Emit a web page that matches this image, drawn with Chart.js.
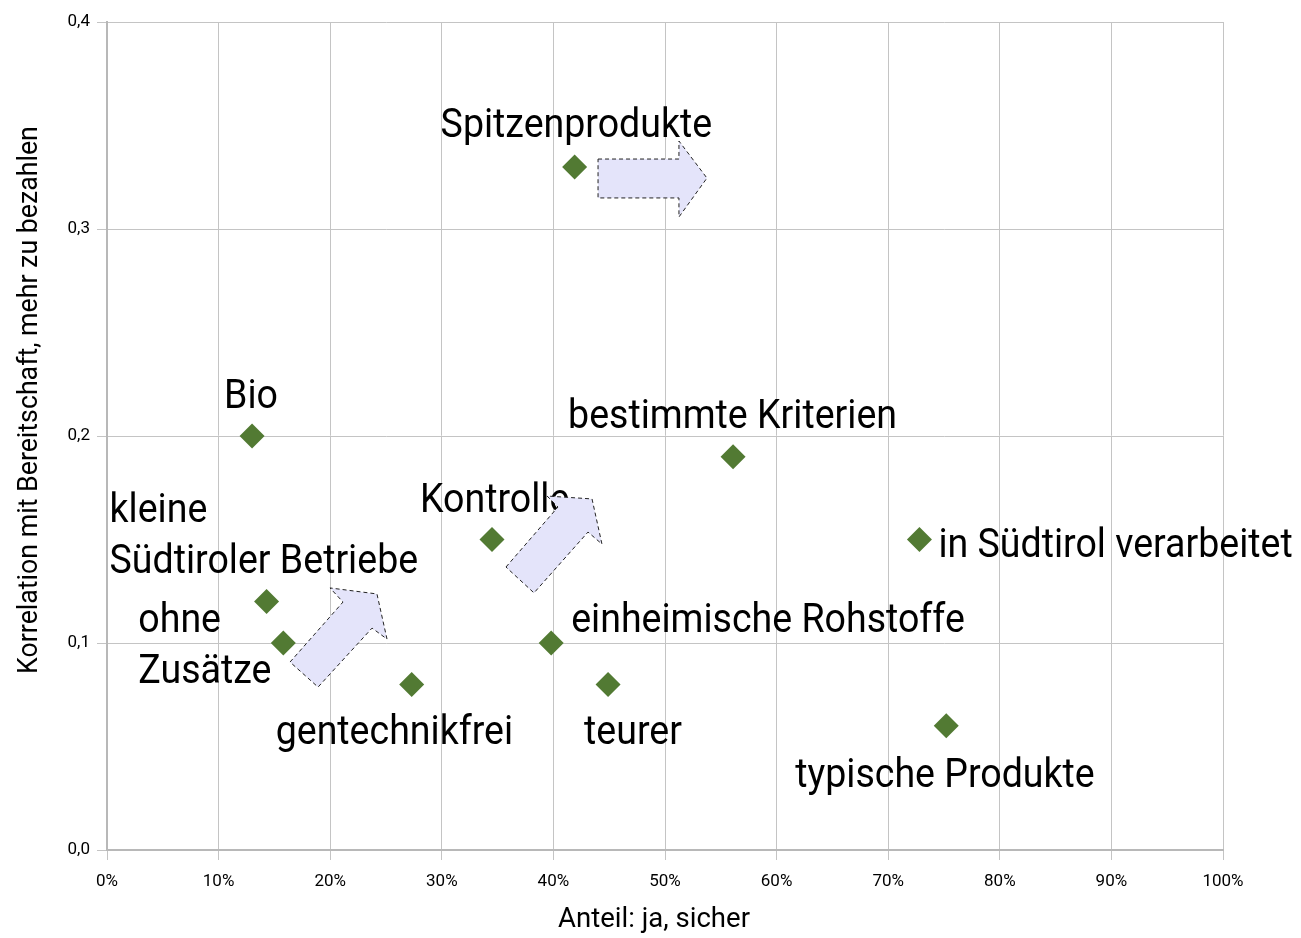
<!DOCTYPE html>
<html>
<head>
<meta charset="utf-8">
<script src="https://cdn.jsdelivr.net/npm/chart.js@4.4.1/dist/chart.umd.min.js"></script>
<style>
html,body{margin:0;padding:0;background:#fff;}
#wrap{width:1301px;height:938px;position:relative;}
canvas{display:block;}
</style>
</head>
<body>
<div id="wrap"><canvas id="c" width="1301" height="938"></canvas></div>
<script>
// ---- data ----
const categories = [
  ['Spitzenprodukte'],
  ['Bio'],
  ['bestimmte Kriterien'],
  ['Kontrolle'],
  ['in Südtirol verarbeitet'],
  ['kleine', 'Südtiroler Betriebe'],
  ['ohne', 'Zusätze'],
  ['einheimische Rohstoffe'],
  ['gentechnikfrei'],
  ['teurer'],
  ['typische Produkte']
];
const shareYes    = [41.9, 13.0, 56.1, 34.5, 72.8, 14.3, 15.8, 39.8, 27.3, 44.9, 75.2];
const correlation = [0.33, 0.20, 0.19, 0.15, 0.15, 0.12, 0.10, 0.10, 0.08, 0.08, 0.06];
const yTickValues = [0.0, 0.1, 0.2, 0.3, 0.4];
const xTickValues = [0, 10, 20, 30, 40, 50, 60, 70, 80, 90, 100];
const xTitle = 'Anteil: ja, sicher';
const yTitle = 'Korrelation mit Bereitschaft, mehr zu bezahlen';

// label placement (pixel offsets from the point: left edge, first baseline)
const labelOffsets = [
  [-134, -30], [-28, -28], [-165, -29], [-72, -28], [19, 17],
  [-157, -80], [-145, -11], [20, -11], [-136, 60], [-24, 60], [-151, 61]
];

// decorative block arrows, in data space [x %, y]
const arrows = [
  [[44.0,0.3338],[51.25,0.3338],[51.25,0.3425],[53.76,0.3246],[51.25,0.3058],[51.25,0.3150],[44.0,0.3150]],
  [[35.75,0.1367],[40.41,0.1657],[39.43,0.1710],[43.46,0.1696],[44.35,0.1478],[43.10,0.1536],[38.26,0.1242]],
  [[16.40,0.0908],[21.15,0.1198],[19.98,0.1266],[24.19,0.1237],[25.09,0.1019],[23.75,0.1072],[18.91,0.0787]]
];

const FONT = 'Roboto, "Liberation Sans", sans-serif';
const CONDENSE = 0.915;

const overlay = {
  id: 'overlay',
  afterDatasetsDraw(chart) {
    const {ctx, scales: {x, y}} = chart;
    // labels
    ctx.save();
    ctx.fillStyle = '#000';
    ctx.font = '41px ' + FONT;
    ctx.textAlign = 'left';
    ctx.textBaseline = 'alphabetic';
    categories.forEach((lines, i) => {
      const px = x.getPixelForValue(shareYes[i]);
      const py = y.getPixelForValue(correlation[i]);
      const [dx, dy] = labelOffsets[i];
      lines.forEach((t, k) => {
        ctx.save();
        ctx.translate(px + dx, py + dy + k * 51);
        ctx.scale(CONDENSE, 1);
        ctx.fillText(t, 0, 0);
        ctx.restore();
      });
    });
    ctx.restore();
    // arrows on top
    ctx.save();
    arrows.forEach(poly => {
      ctx.beginPath();
      poly.forEach(([vx, vy], k) => {
        const px = x.getPixelForValue(vx), py = y.getPixelForValue(vy);
        if (k === 0) ctx.moveTo(px, py); else ctx.lineTo(px, py);
      });
      ctx.closePath();
      ctx.fillStyle = '#E4E4FA';
      ctx.fill();
      ctx.setLineDash([4, 3]);
      ctx.lineWidth = 1;
      ctx.strokeStyle = '#222';
      ctx.stroke();
    });
    ctx.restore();
  },
  afterDraw(chart) {
    const {ctx} = chart;
    ctx.save();
    ctx.fillStyle = '#000';
    ctx.font = '27px ' + FONT;
    ctx.textAlign = 'center';
    ctx.textBaseline = 'middle';
    // x title
    ctx.save();
    ctx.translate(654, 920);
    ctx.scale(1.02, 1);
    ctx.fillText(xTitle, 0, 0);
    ctx.restore();
    // y title
    ctx.save();
    ctx.translate(30, 400);
    ctx.rotate(-Math.PI / 2);
    ctx.scale(0.99, 1);
    ctx.fillText(yTitle, 0, 0);
    ctx.restore();
    ctx.restore();
  }
};

new Chart(document.getElementById('c'), {
  type: 'scatter',
  data: {
    datasets: [{
      data: shareYes.map((v, i) => ({x: v, y: correlation[i]})),
      pointStyle: 'rectRot',
      pointRadius: 12.5,
      pointHoverRadius: 12.5,
      backgroundColor: '#527A33',
      borderWidth: 0
    }]
  },
  options: {
    responsive: false,
    animation: false,
    events: [],
    layout: {padding: {left: 0, top: 22, right: 78, bottom: 0}},
    plugins: {legend: {display: false}, tooltip: {enabled: false}, title: {display: false}},
    scales: {
      x: {
        type: 'linear', min: 0, max: 100,
        afterBuildTicks: s => { s.ticks = xTickValues.map(v => ({value: v})); },
        ticks: {callback: v => v + '%', color: '#000', font: {family: FONT, size: 17}, padding: 12, maxRotation: 0},
        grid: {color: '#C4C4C4', lineWidth: 1, tickLength: 10},
        border: {color: '#B8B8B8', width: 2},
        afterFit: s => { s.height = 88; }
      },
      y: {
        type: 'linear', min: 0, max: 0.4,
        afterBuildTicks: s => { s.ticks = yTickValues.map(v => ({value: v})); },
        ticks: {callback: v => v.toFixed(1).replace('.', ','), color: '#000', font: {family: FONT, size: 17}, padding: 7},
        grid: {color: '#C4C4C4', lineWidth: 1, tickLength: 10},
        border: {color: '#B8B8B8', width: 2},
        afterFit: s => { s.width = 107; }
      }
    }
  },
  plugins: [overlay]
});
</script>
</body>
</html>
